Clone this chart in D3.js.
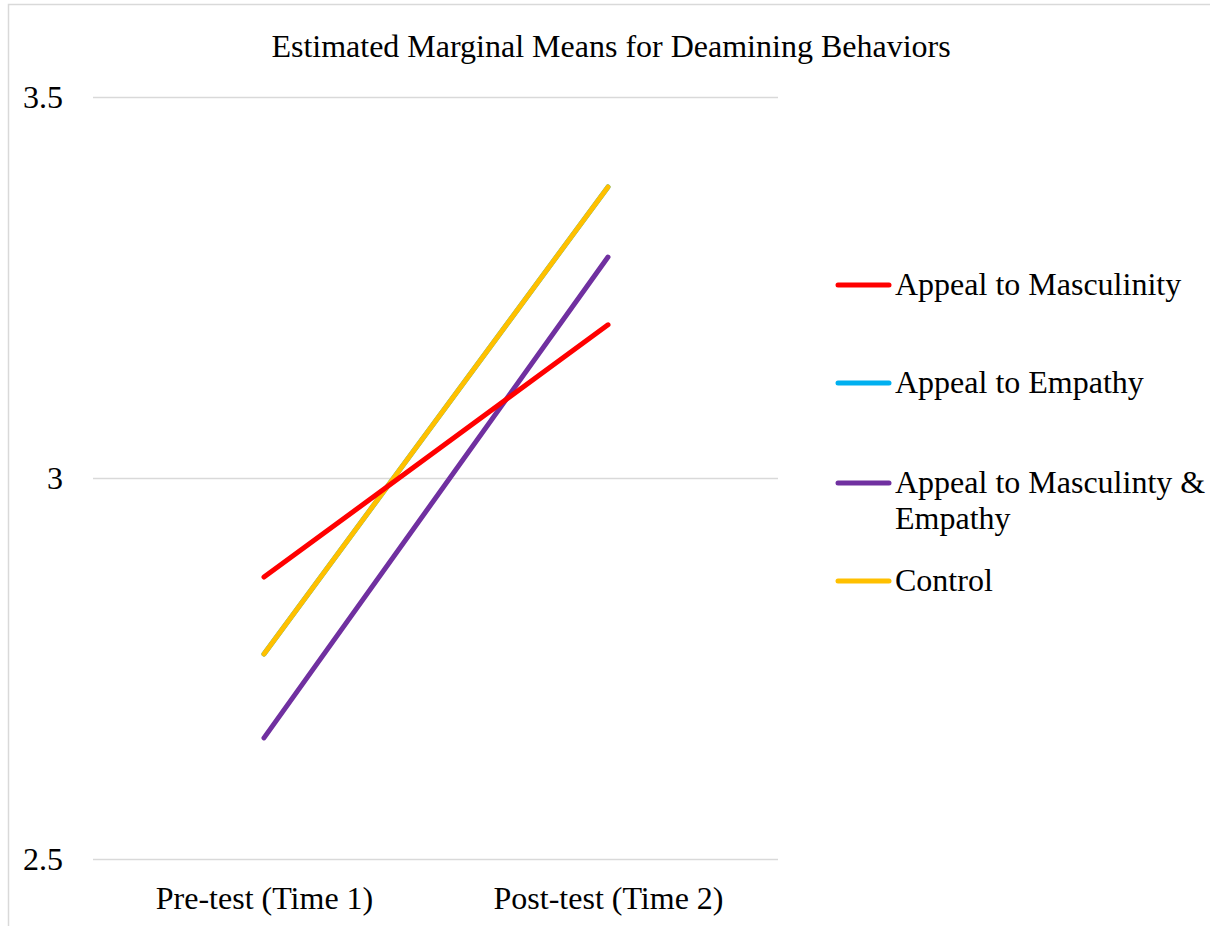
<!DOCTYPE html>
<html><head><meta charset="utf-8">
<script src="https://cdn.jsdelivr.net/npm/d3@7"></script>
<style>body{margin:0;background:#fff}svg{display:block}</style>
</head><body>
<script>
const categories = ["Pre-test (Time 1)", "Post-test (Time 2)"];
const seriesNames = ["Appeal to Masculinity", "Appeal to Empathy", "Appeal to Masculinty & Empathy", "Control"];
const masculinity = [2.870, 3.201];
const empathy = [2.769, 3.382];
const mascEmpathy = [2.659, 3.290];
const control = [2.769, 3.382];
const yTicks = [2.5, 3, 3.5];
const colors = ["#ff0000", "#00b0f0", "#7030a0", "#ffc000"];
const title = "Estimated Marginal Means for Deamining Behaviors";

const W = 1210, H = 926;
const svg = d3.select("body").append("svg").attr("width", W).attr("height", H);
const font = "'Liberation Serif', 'Times New Roman', serif";
const fs = 32;

svg.append("rect").attr("x", 8.5).attr("y", 4.5).attr("width", W + 10).attr("height", H + 10)
  .attr("fill", "#fff").attr("stroke", "#d9d9d9").attr("stroke-width", 1.5);

const x = d3.scalePoint().domain(categories).range([264, 608]);
const y = d3.scaleLinear().domain([2.5, 3.5]).range([859, 97]);

svg.append("text").attr("x", 611).attr("y", 57).attr("text-anchor", "middle")
  .attr("font-family", font).attr("font-size", fs).attr("fill", "#000").text(title);

const yAxis = d3.axisLeft(y).tickValues(yTicks).tickSize(-(778 - 93)).tickFormat(d => d3.format("")(d));
const gy = svg.append("g").attr("transform", "translate(93,0)").call(yAxis);
gy.select(".domain").remove();
gy.selectAll(".tick line").attr("stroke", "#d9d9d9").attr("stroke-width", 1.5);
gy.selectAll(".tick text").attr("x", -30).attr("font-family", font).attr("font-size", fs).attr("fill", "#000");

const xAxis = d3.axisBottom(x).tickSize(0);
const gx = svg.append("g").attr("transform", "translate(0,859)").call(xAxis);
gx.select(".domain").remove();
gx.selectAll(".tick text").attr("dy", "0").attr("y", 50).attr("font-family", font).attr("font-size", fs).attr("fill", "#000");

const data = [masculinity, empathy, mascEmpathy, control];
const line = d3.line().x((d, i) => x(categories[i])).y(d => y(d));
const order = [1, 3, 2, 0];
order.forEach(k => {
  svg.append("path").datum(data[k]).attr("d", line).attr("fill", "none")
    .attr("stroke", colors[k]).attr("stroke-width", 5).attr("stroke-linecap", "round");
});

const legY = [285, 383, 483, 581];
const leg = svg.append("g");
seriesNames.forEach((name, i) => {
  leg.append("line").attr("x1", 838).attr("x2", 889).attr("y1", legY[i]).attr("y2", legY[i])
    .attr("stroke", colors[i]).attr("stroke-width", 5).attr("stroke-linecap", "round");
  const t = leg.append("text").attr("x", 895).attr("y", legY[i] + 10)
    .attr("font-family", font).attr("font-size", fs).attr("fill", "#000");
  if (i === 2) {
    t.append("tspan").attr("x", 895).text("Appeal to Masculinty &");
    t.append("tspan").attr("x", 895).attr("dy", 36).text("Empathy");
  } else t.text(name);
});
</script>
</body></html>
